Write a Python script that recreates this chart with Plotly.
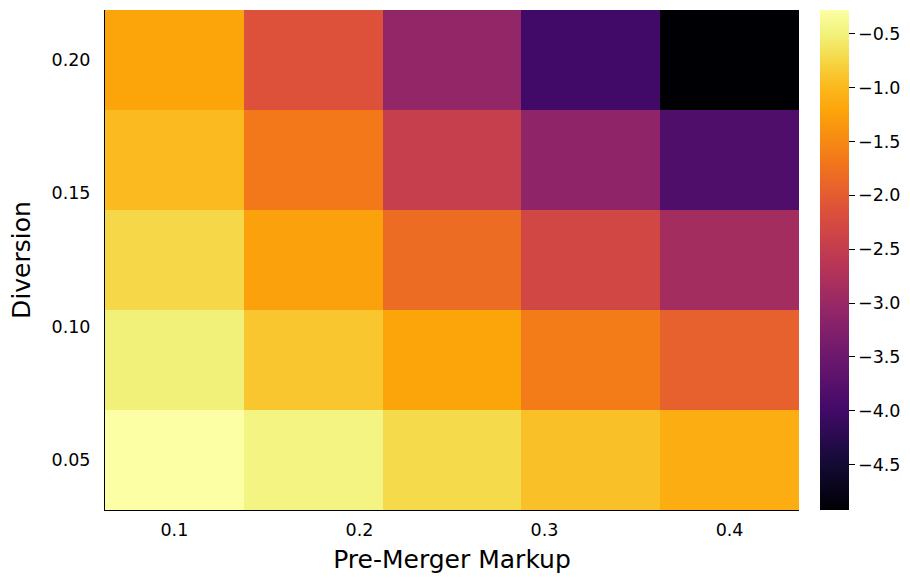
import numpy as np
import plotly.graph_objects as go

# grid: 5 markups x 5 diversion ratios
markup = [0.1, 0.175, 0.25, 0.325, 0.4]
diversion = [0.05, 0.0875, 0.125, 0.1625, 0.2]

# rows = diversion (bottom to top), columns = markup (left to right)
effect = [
    [-0.28, -0.47, -0.72, -0.93, -1.12],
    [-0.51, -0.88, -1.21, -1.63, -1.95],
    [-0.74, -1.25, -1.81, -2.32, -2.88],
    [-0.98, -1.67, -2.46, -3.11, -3.85],
    [-1.21, -2.14, -3.06, -3.99, -4.92],
]

cbar_ticks = [-0.5, -1.0, -1.5, -2.0, -2.5, -3.0, -3.5, -4.0, -4.5]

# denser inferno than plotly's built-in (closer to the julia/matplotlib one)
inferno = [
    [0.0, "#000004"], [0.1, "#160b39"], [0.2, "#420a68"], [0.3, "#6a176e"],
    [0.4, "#932667"], [0.5, "#bc3754"], [0.6, "#dd513a"], [0.7, "#f37819"],
    [0.8, "#fca50a"], [0.85, "#fbba1f"], [0.9, "#f6d746"], [0.95, "#f1f179"],
    [1.0, "#fcffa4"],
]

font_name = "DejaVu Sans"

fig = go.Figure(go.Heatmap(
    x=markup,
    y=diversion,
    z=effect,
    colorscale=inferno,
    colorbar=dict(
        x=1.0288, xanchor="left", xpad=0,
        y=0.5, yanchor="middle", len=1.0, ypad=0,
        thickness=29,
        outlinewidth=0,
        tickvals=cbar_ticks,
        tickformat=".1f",
        ticks="outside", ticklen=6, tickcolor="black",
        tickfont=dict(family=font_name, size=17.5, color="black"),
    ),
))

# right edge line of the colour bar, as in the original
fig.add_shape(type="line", xref="paper", yref="paper",
              x0=1.0705, x1=1.0705, y0=0, y1=1,
              line=dict(color="black", width=1))

fig.update_layout(
    width=910, height=581,
    margin=dict(l=105, r=110, t=10, b=71),
    paper_bgcolor="white",
    plot_bgcolor="white",
    font=dict(family=font_name, color="black"),
    xaxis=dict(
        title=dict(text="Pre-Merger Markup", font=dict(size=25), standoff=11),
        tickvals=[0.1, 0.2, 0.3, 0.4],
        tickformat=".1f",
        tickfont=dict(size=17.5),
        range=[0.0625, 0.4375],
        showline=True, linecolor="black", linewidth=1,
        showgrid=False, zeroline=False,
        ticks="outside", ticklen=4, tickcolor="rgba(0,0,0,0)",
    ),
    yaxis=dict(
        title=dict(text="Diversion", font=dict(size=25), standoff=13),
        tickvals=[0.05, 0.1, 0.15, 0.2],
        tickformat=".2f",
        tickfont=dict(size=17.5),
        range=[0.03125, 0.21875],
        showline=True, linecolor="black", linewidth=1,
        showgrid=False, zeroline=False,
        ticks="outside", ticklen=10, tickcolor="rgba(0,0,0,0)",
    ),
)

# the page's default body margin would push the figure 8px down and right
fig.write_html("out.html", config={"displayModeBar": False},
               post_script="document.body.style.margin='0';")
